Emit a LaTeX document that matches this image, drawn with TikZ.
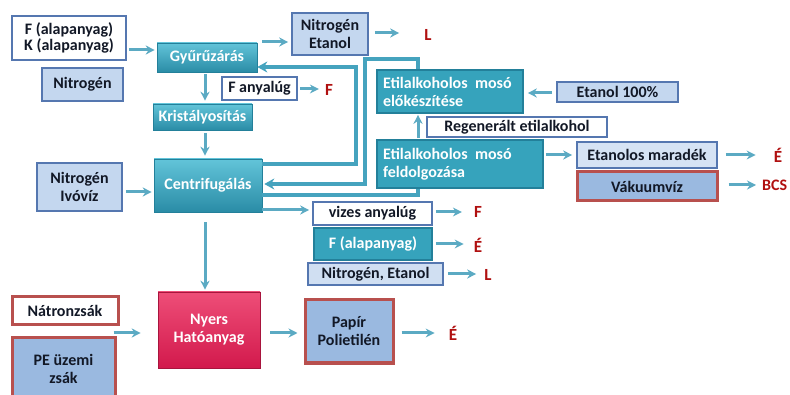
\documentclass[tikz,border=0pt]{standalone}
\usepackage{fontspec}
\setmainfont{Carlito}
\usetikzlibrary{arrows.meta,calc}

\definecolor{ink}{HTML}{121826}
\definecolor{steel}{HTML}{5577B0}
\definecolor{paleblue}{HTML}{C4D7EF}
\definecolor{midblue}{HTML}{9AB9E0}
\definecolor{tealA}{HTML}{62C4D9}
\definecolor{tealB}{HTML}{36A3BC}
\definecolor{tealC}{HTML}{2A8CA6}
\definecolor{tealD}{HTML}{23809A}
\definecolor{brick}{HTML}{B8504E}
\definecolor{crimA}{HTML}{EE4E78}
\definecolor{crimB}{HTML}{D2194C}
\definecolor{darkred}{HTML}{B01010}
\definecolor{arrowc}{HTML}{5BAAC3}
\definecolor{loopc}{HTML}{45A3BE}

\begin{document}
\begin{tikzpicture}[x=1pt,y=-1pt,
  box/.style={draw, line width=1.6pt, inner sep=0pt, align=center,
    font=\bfseries\fontsize{16}{18}\selectfont, text=ink},
  lightbox/.style={box, fill=paleblue, draw=steel},
  whitebox/.style={box, fill=white, draw=steel},
  bevelbox/.style={box, draw=tealD, line width=0.6pt, top color=tealA,
    bottom color=tealC, text=white},
  flatteal/.style={box, fill=tealB, draw=tealD, text=white},
  redbox/.style={box, draw=brick, line width=3pt},
  outlbl/.style={font=\bfseries\fontsize{17}{17}\selectfont, text=darkred, inner sep=0pt},
  arr/.style={-{Stealth[length=9pt,width=9pt]}, line width=3pt, draw=arrowc},
  looparr/.style={-{Stealth[length=10pt,width=11pt]}, line width=4pt, draw=loopc},
  loopline/.style={line width=4pt, draw=loopc},
]
\useasboundingbox (0,0) rectangle (790,395);
\clip (0,0) rectangle (790,395);

% --- raw materials and first steps
\node[whitebox, minimum width=114pt, minimum height=44pt,
      font=\bfseries\fontsize{16}{15.5}\selectfont] (fk) at (69,38)
      {F (alapanyag)\\K (alapanyag)};
\node[lightbox, minimum width=81pt, minimum height=33pt] (nit1) at (82.5,84.5) {Nitrogén};
\node[bevelbox, minimum width=100pt, minimum height=29pt] (gyu) at (207,57.5) {Gyűrűzárás};
\node[lightbox, minimum width=76pt, minimum height=42pt] (netn) at (330,34) {Nitrogén\\Etanol};
\node[outlbl] (L1) at (428,35) {L};
\node[whitebox, minimum width=75pt, minimum height=23pt] (fany) at (259.5,88.5) {F anyalúg};
\node[outlbl] (F1) at (329,90) {F};
\node[bevelbox, minimum width=99pt, minimum height=26pt] (kri) at (202.5,117) {Kristályosítás};
\node[bevelbox, minimum width=108pt, minimum height=53pt] (cen) at (208,185.5) {Centrifugálás};
\node[lightbox, minimum width=85pt, minimum height=48pt] (niv) at (79.5,187) {Nitrogén\\Ivóvíz};

% --- ethanol wash circuit
\node[flatteal, minimum width=146pt, minimum height=43pt, align=left,
      text width=134pt, inner xsep=6pt] (elo) at (450,91.5)
      {Etilalkoholos\hspace{2pt} mosó\\előkészítése};
\node[lightbox, minimum width=121pt, minimum height=20pt] (e100) at (617.5,92) {Etanol 100\%};
\node[whitebox, minimum width=180pt, minimum height=20pt] (reg) at (517,127) {Regenerált etilalkohol};
\node[flatteal, minimum width=166pt, minimum height=48pt, align=left,
      text width=154pt, inner xsep=6pt] (fel) at (460,164)
      {Etilalkoholos\hspace{2pt} mosó\\feldolgozása};
\node[lightbox, fill=paleblue!70!white, minimum width=140pt, minimum height=26pt] (emar) at (647,155) {Etanolos maradék};
\node[redbox, fill=midblue, minimum width=140pt, minimum height=29pt] (vak) at (647,186.5) {Vákuumvíz};
\node[outlbl] (E1) at (778,155) {É};
\node[outlbl, anchor=west, font=\bfseries\fontsize{16}{16}\selectfont] (BCS) at (762,185) {BCS};

% --- side streams of the centrifuge
\node[whitebox, minimum width=119pt, minimum height=23pt] (viz) at (372.5,213.5) {vizes anyalúg};
\node[flatteal, minimum width=118pt, minimum height=32pt] (fal) at (373,244) {F (alapanyag)};
\node[lightbox, fill=paleblue!80!white, minimum width=135pt, minimum height=22pt] (nie) at (375.5,274) {Nitrogén, Etanol};
\node[outlbl] (F2) at (478,212) {F};
\node[outlbl] (E2) at (478,245) {É};
\node[outlbl] (L2) at (488,275) {L};

% --- packaging
\node[redbox, fill=white, minimum width=106pt, minimum height=28pt] (nat) at (65,311) {Nátronzsák};
\node[redbox, fill=midblue, minimum width=103pt, minimum height=62pt] (pe) at (63.5,369) {PE üzemi\\zsák};
\node[box, draw=crimB!80!black, line width=0.6pt, top color=crimA, bottom color=crimB,
      text=white, minimum width=102pt, minimum height=76pt] (nyers) at (209,330) {Nyers\\Hatóanyag};
\node[redbox, fill=midblue, minimum width=88pt, minimum height=63pt] (pap) at (349,331.5) {Papír\\Polietilén};
\node[outlbl] (E3) at (453,333) {É};

% --- straight flow arrows
\draw[arr, shorten <=2pt, shorten >=2pt] (fk.east |- 0,50) -- (gyu.west |- 0,50);
\draw[arr, shorten <=5pt, shorten >=3pt] (gyu.north east |- 0,42) -- (netn.west |- 0,42);
\draw[arr, shorten <=6pt, shorten >=25pt] (netn.east |- 0,33) -- (L1.west |- 0,33);
\draw[arr, shorten <=2pt, shorten >=3pt] (gyu.south -| 205,0) -- (kri.north -| 205,0);
\draw[arr, shorten <=2pt, shorten >=6pt] (fany.east |- 0,89) -- (F1.west |- 0,89);
\draw[arr, shorten <=3pt, shorten >=3pt] (kri.south -| 205,0) -- (cen.north -| 205,0);
\draw[arr, shorten <=3pt, shorten >=2pt] (niv.east |- 0,192) -- (cen.west |- 0,192);
\draw[arr, shorten <=10pt, shorten >=2pt] (cen.south -| 205,0) -- (nyers.north -| 205,0);
\draw[arr, shorten >=3pt] (cen.east |- 0,210) -- (viz.west |- 0,210);
\draw[arr, shorten <=3pt, shorten >=12pt] (viz.east |- 0,212) -- (F2.west |- 0,212);
\draw[arr, shorten <=3pt, shorten >=10pt] (fal.east |- 0,244) -- (E2.west |- 0,244);
\draw[arr, shorten <=4pt, shorten >=8pt] (nie.east |- 0,274) -- (L2.west |- 0,274);
\draw[arr, shorten <=4pt, shorten >=4pt] (e100.west |- 0,93) -- (elo.east |- 0,93);
\draw[arr, shorten <=1pt, shorten >=1pt] (fel.north -| 418,0) -- (elo.south -| 418,0);
\draw[arr, shorten <=2pt, shorten >=4pt] (fel.east |- 0,155) -- (emar.west |- 0,155);
\draw[arr, shorten <=8pt, shorten >=18pt] (emar.east |- 0,155) -- (E1.west |- 0,155);
\draw[arr, shorten <=10pt, shorten >=6pt] (vak.east |- 0,185) -- (BCS.west |- 0,185);
\draw[arr, shorten <=-6pt, shorten >=17pt] (nat.south east |- 0,333) -- (nyers.west |- 0,333);
\draw[arr, shorten <=10pt, shorten >=6pt] (nyers.east |- 0,333) -- (pap.west |- 0,333);
\draw[arr, shorten <=7pt, shorten >=14pt] (pap.east |- 0,333) -- (E3.west |- 0,333);

% --- recycle loops
\draw[looparr] (cen.east |- 0,164) -- (356,164) -- (356,67) -- (gyu.east |- 0,67);
\draw[looparr] (elo.north -| 418,0) -- (418,59) -- (365,59) -- (365,184) -- ([xshift=2pt]cen.east |- 0,184);
\draw[loopline] (cen.east |- 0,195) -- (418,195) -- (fel.south -| 418,0);
\end{tikzpicture}
\end{document}
